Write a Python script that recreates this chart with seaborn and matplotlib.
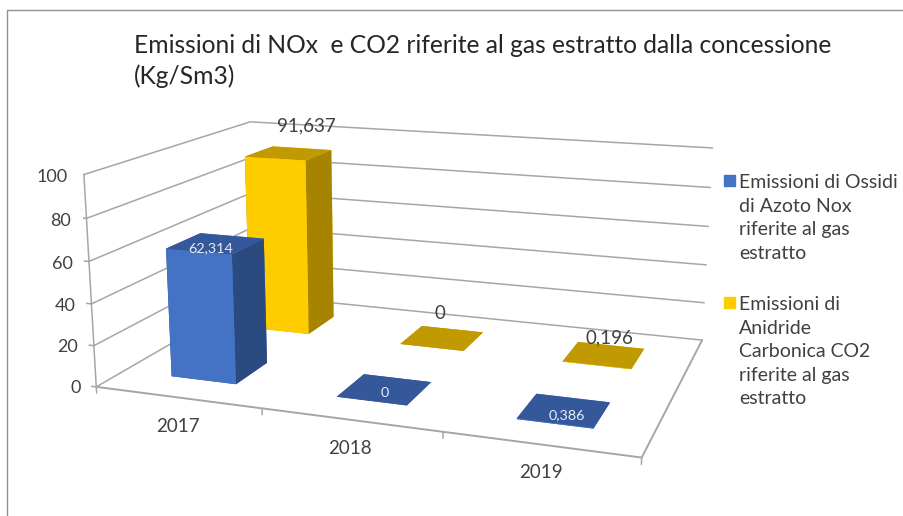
import matplotlib
matplotlib.use('Agg')
import matplotlib.pyplot as plt
import seaborn as sns
from matplotlib.lines import Line2D
from matplotlib.patches import Rectangle
from mpl_toolkits.mplot3d import proj3d

years = ['2017', '2018', '2019']
nox = [62.314, 0, 0.386]
co2 = [91.637, 0, 0.196]
z_ticks = [0, 20, 40, 60, 80, 100]
title = 'Emissioni di NOx  e CO2 riferite al gas estratto dalla concessione\n(Kg/Sm3)'
nox_name = 'Emissioni di Ossidi\ndi Azoto Nox\nriferite al gas\nestratto'
co2_name = 'Emissioni di\nAnidride\nCarbonica CO2\nriferite al gas\nestratto'

sns.set_style('white')
plt.rcParams['font.family'] = ['Lato', 'DejaVu Sans']

GREY = '#a6a6a6'
TXT = '#404040'
W, H = 904, 516
GAP = 0.3


def fmt(v):
    return f'{v:g}'.replace('.', ',')


fig = plt.figure(figsize=(W / 100, H / 100), dpi=100, facecolor='white')
ax = fig.add_axes([82.51 / W, -79.95 / H, 647.86 / W, 647.86 / H], projection='3d')
ax.computed_zorder = False
ax.set_axis_off()
ax.patch.set_alpha(0)

# walls and floor
for z in z_ticks:
    ax.plot([0, 0, 3], [0, 2, 2], [z, z, z], color=GREY, lw=1.1, zorder=1)
    ax.plot([-0.03, 0], [0, 0], [z, z], color=GREY, lw=1.1, zorder=1)
ax.plot([0, 0], [0, 0], [0, 100], color=GREY, lw=1.1, zorder=1)
ax.plot([0, 3, 3], [0, 0, 2], [0, 0, 0], color=GREY, lw=1.4, zorder=1)
for i in range(4):
    ax.plot([i, i], [0, 0], [0, -3], color=GREY, lw=1.1, zorder=1)


def draw_bars(vals, j, front, top, side, zo):
    n = len(vals)
    faces = []
    for _ in range(n):
        faces += [top, top, front, front, side, side]
    ax.bar3d([i + GAP for i in range(n)], [j + GAP] * n, [0] * n,
             [1 - 2 * GAP] * n, [1 - 2 * GAP] * n, vals,
             color=faces, shade=False, edgecolor='none', linewidth=0, zorder=zo)


draw_bars(co2, 1, '#ffcc00', '#c09a00', '#a68400', 2)
draw_bars(nox, 0, '#4472c4', '#34589a', '#2a4a80', 3)

ax.view_init(14.324, -70.524, -0.087)
ax.set_proj_type('persp', focal_length=0.398)
ax.set_box_aspect((1, 0.6607, 0.3934))
ax.set_xlim(0, 3, view_margin=0)
ax.set_ylim(0, 2, view_margin=0)
ax.set_zlim(0, 100, view_margin=0)


def label(x, y, z, s, **kw):
    # flat text placed at the projected point, keeps the real extents
    xs, ys, _ = proj3d.proj_transform(x, y, z, ax.get_proj())
    ax.text2D(xs, ys, s, transform=ax.transData, **kw)


for z in z_ticks:
    label(-0.1, 0, z - 1.7, str(z), ha='right', va='center', fontsize=13, color=TXT, zorder=6)
nudge_year = [(0.62, -6), (0.585, -5.5), (0.56, -4.5)]
for i, y in enumerate(years):
    dx, dz = nudge_year[i]
    label(i + dx, -0.22, dz, y, ha='center', va='center', fontsize=13.5, color=TXT, zorder=6)

# data labels, nudged the way the original sits
nudge_nox = [(-0.03, 0, -2.5), (0, 0, -2), (0.015, 0, -2)]
nudge_co2 = [(0.12, 0, 15), (-0.015, 0, 13), (0.03, 0, 9)]
for i in range(3):
    dx, dy, dz = nudge_nox[i]
    label(i + 0.5 + dx, 0.5 + dy, nox[i] + dz, fmt(nox[i]), ha='center', va='center',
          fontsize=10.4, color='#e8ecf5', zorder=7)
    dx, dy, dz = nudge_co2[i]
    label(i + 0.5 + dx, 1.5 + dy, co2[i] + dz, fmt(co2[i]), ha='center', va='center',
          fontsize=13.5, color=TXT, zorder=7)

fig.text(134 / W, 1 - 34 / H, title, ha='left', va='top', fontsize=17.7, color='#262626', linespacing=1.38)

# legend drawn by hand because the squares sit on the first line of wrapped text
for name, col, ytop in [(nox_name, '#4472c4', 181), (co2_name, '#ffcc00', 303)]:
    fig.add_artist(Rectangle((724 / W, 1 - (ytop + 5) / H), 11 / W, 11 / H, color=col,
                             transform=fig.transFigure))
    fig.text(739 / W, 1 - (ytop - 7) / H, name, ha='left', va='top', fontsize=14,
             color=TXT, linespacing=1.47)

# slide frame
fig.add_artist(Line2D([7 / W, 7 / W, 1], [0, 1 - 10 / H, 1 - 10 / H], color='#909090', lw=1))

fig.savefig('out.png', dpi=100)
